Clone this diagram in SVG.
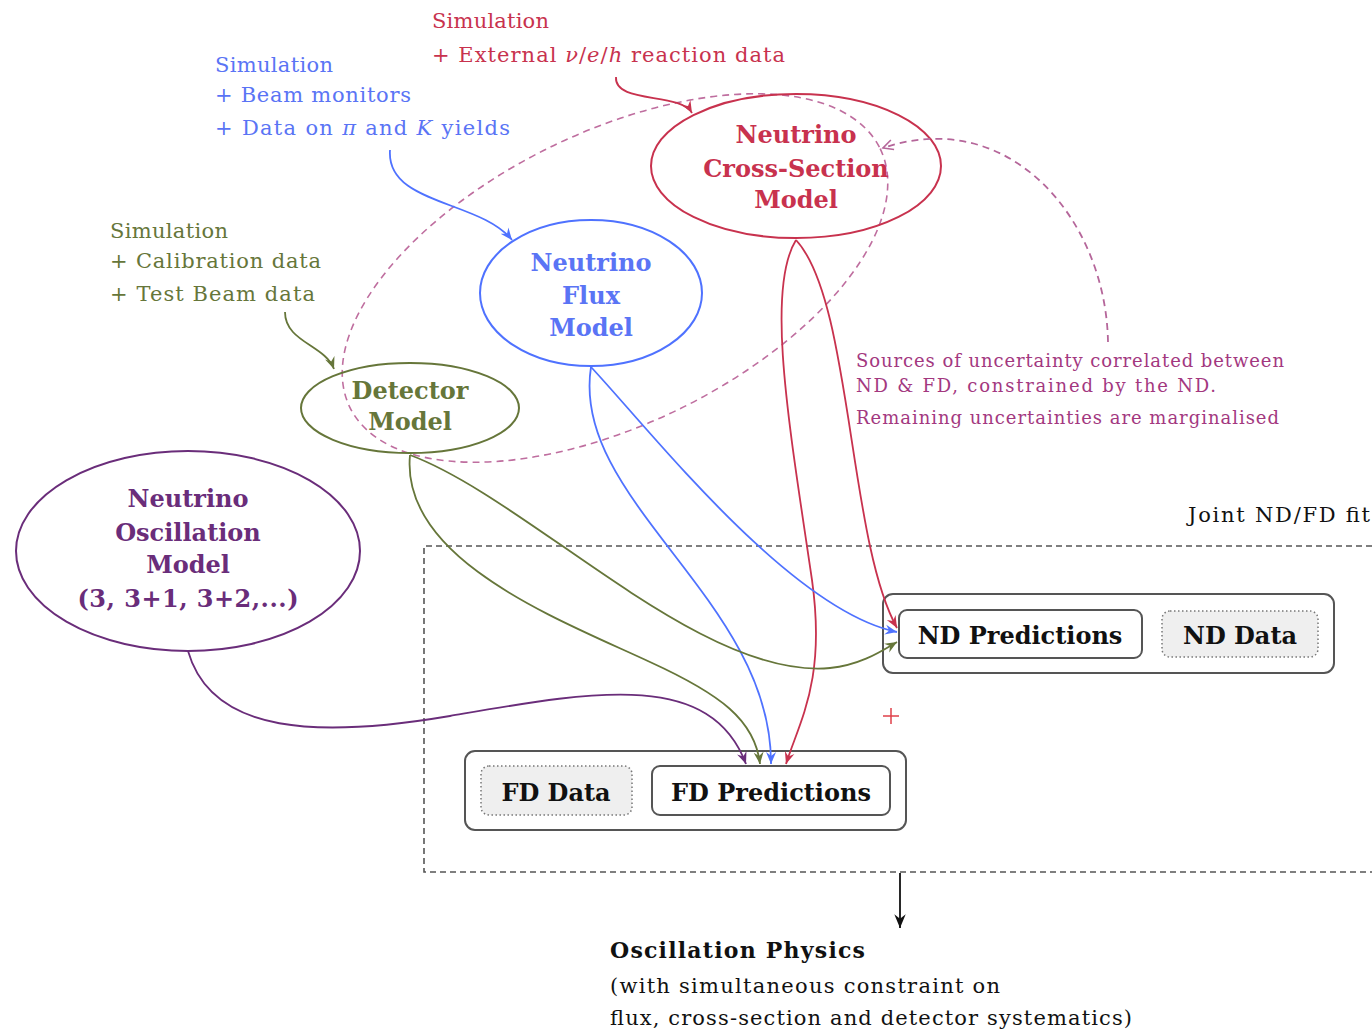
<svg xmlns="http://www.w3.org/2000/svg" width="1372" height="1031" viewBox="0 0 1372 1031">
<style>
  text { font-family: "DejaVu Serif", "Liberation Serif", serif; }
  .lbl { font-weight: bold; font-size: 24px; text-anchor: middle; }
  .reg { font-size: 21px; }
  .red { fill: #c8324e; }
  .blue { fill: #5a74f5; }
  .green { fill: #66763a; }
  .purple { fill: #6a2d7a; }
  .pink { fill: #a3387f; }
  .blk { fill: #111; }
  .conn { fill: none; stroke-width: 1.8; }
  .box { fill: #fff; stroke: #555; stroke-width: 2; }
  .data { fill: #efefef; stroke: #777; stroke-width: 1.5; stroke-dasharray: 1.5 2.5; }
</style>
<defs>
  <marker id="ah-red" markerUnits="userSpaceOnUse" markerWidth="14" markerHeight="12" refX="12" refY="5" orient="auto" viewBox="0 0 14 10"><path d="M0,0 L12,5 L0,10 L4,5 z" fill="#c8324e"/></marker>
  <marker id="ah-blue" markerUnits="userSpaceOnUse" markerWidth="14" markerHeight="12" refX="12" refY="5" orient="auto" viewBox="0 0 14 10"><path d="M0,0 L12,5 L0,10 L4,5 z" fill="#4f72ff"/></marker>
  <marker id="ah-green" markerUnits="userSpaceOnUse" markerWidth="14" markerHeight="12" refX="12" refY="5" orient="auto" viewBox="0 0 14 10"><path d="M0,0 L12,5 L0,10 L4,5 z" fill="#66763a"/></marker>
  <marker id="ah-purple" markerUnits="userSpaceOnUse" markerWidth="14" markerHeight="12" refX="12" refY="5" orient="auto" viewBox="0 0 14 10"><path d="M0,0 L12,5 L0,10 L4,5 z" fill="#6a2d7a"/></marker>
  <marker id="ah-pink" markerUnits="userSpaceOnUse" markerWidth="14" markerHeight="12" refX="11" refY="5" orient="auto" viewBox="0 0 14 10"><path d="M1,0 L11,5 L1,10" fill="none" stroke="#b5669a" stroke-width="1.6"/></marker>
  <marker id="ah-black" markerUnits="userSpaceOnUse" markerWidth="16" markerHeight="14" refX="12" refY="5" orient="auto" viewBox="0 0 14 10"><path d="M0,0 L12,5 L0,10 L4,5 z" fill="#111"/></marker>
</defs>

<!-- joint fit region -->
<g id="joint-fit">
  <path d="M1372,546 L424,546 L424,872 L1372,872" fill="none" stroke="#555" stroke-width="1.6" stroke-dasharray="6 4"/>
  <text class="reg blk" x="1188" y="522" textLength="182" lengthAdjust="spacing">Joint ND/FD fit</text>
</g>

<!-- correlated uncertainty region -->
<g id="correlated-region">
  <ellipse cx="615" cy="278" rx="295" ry="146" transform="rotate(-26 615 278)" fill="none" stroke="#bf6e9f" stroke-width="1.6" stroke-dasharray="7 5"/>
  <text class="pink" font-size="18" x="856" y="367" textLength="428" lengthAdjust="spacing">Sources of uncertainty correlated between</text>
  <text class="pink" font-size="18" x="856" y="392" textLength="360" lengthAdjust="spacing">ND &amp; FD, constrained by the ND.</text>
  <text class="pink" font-size="18" x="856" y="424" textLength="423" lengthAdjust="spacing">Remaining uncertainties are marginalised</text>
</g>

<!-- input labels -->
<g id="xsec-inputs">
  <text class="reg red" x="432" y="28" textLength="117" lengthAdjust="spacing">Simulation</text>
  <text class="reg red" x="432" y="62" textLength="353" lengthAdjust="spacing">+ External <tspan font-style="italic">ν</tspan>/<tspan font-style="italic">e</tspan>/<tspan font-style="italic">h</tspan> reaction data</text>
</g>
<g id="flux-inputs">
  <text class="reg blue" x="215" y="72" textLength="118" lengthAdjust="spacing">Simulation</text>
  <text class="reg blue" x="215" y="102" textLength="196" lengthAdjust="spacing">+ Beam monitors</text>
  <text class="reg blue" x="215" y="135" textLength="295" lengthAdjust="spacing">+ Data on <tspan font-style="italic">π</tspan> and <tspan font-style="italic">K</tspan> yields</text>
</g>
<g id="detector-inputs">
  <text class="reg green" x="110" y="238" textLength="118" lengthAdjust="spacing">Simulation</text>
  <text class="reg green" x="110" y="268" textLength="211" lengthAdjust="spacing">+ Calibration data</text>
  <text class="reg green" x="110" y="301" textLength="205" lengthAdjust="spacing">+ Test Beam data</text>
</g>

<!-- nodes -->
<g id="xsec-model">
  <ellipse cx="796" cy="166" rx="145" ry="72" fill="none" stroke="#c8324e" stroke-width="2"/>
  <text class="lbl red" x="796" y="143">Neutrino</text>
  <text class="lbl red" x="796" y="177">Cross-Section</text>
  <text class="lbl red" x="796" y="208">Model</text>
</g>
<g id="flux-model">
  <ellipse cx="591" cy="293" rx="111" ry="73" fill="none" stroke="#4f72ff" stroke-width="2"/>
  <text class="lbl blue" x="591" y="271">Neutrino</text>
  <text class="lbl blue" x="591" y="304">Flux</text>
  <text class="lbl blue" x="591" y="336">Model</text>
</g>
<g id="detector-model">
  <ellipse cx="410" cy="408" rx="109" ry="45" fill="none" stroke="#66763a" stroke-width="2"/>
  <text class="lbl green" x="410" y="399">Detector</text>
  <text class="lbl green" x="410" y="430">Model</text>
</g>
<g id="osc-model">
  <ellipse cx="188" cy="551" rx="172" ry="100" fill="none" stroke="#6a2d7a" stroke-width="2"/>
  <text class="lbl purple" x="188" y="507">Neutrino</text>
  <text class="lbl purple" x="188" y="541">Oscillation</text>
  <text class="lbl purple" x="188" y="573">Model</text>
  <text class="lbl purple" x="188" y="607" textLength="221" lengthAdjust="spacing">(3, 3+1, 3+2,...)</text>
</g>

<g id="nd">
  <rect class="box" x="883" y="594" width="451" height="79" rx="10"/>
  <rect class="box" x="899" y="610" width="243" height="48" rx="8" stroke="#444"/>
  <text class="lbl blk" x="1020" y="644">ND Predictions</text>
  <rect class="data" x="1162" y="611" width="156" height="46" rx="8"/>
  <text class="lbl blk" x="1240" y="644">ND Data</text>
</g>
<g id="fd">
  <rect class="box" x="465" y="751" width="441" height="79" rx="10"/>
  <rect class="data" x="481" y="766" width="151" height="49" rx="8"/>
  <text class="lbl blk" x="556" y="801">FD Data</text>
  <rect class="box" x="652" y="766" width="238" height="49" rx="8" stroke="#444"/>
  <text class="lbl blk" x="771" y="801">FD Predictions</text>
</g>

<g id="red-plus">
  <path d="M883,716 L899,716 M891,708 L891,724" stroke="#e0404a" stroke-width="1.5"/>
</g>

<g id="result">
  <text font-weight="bold" font-size="22" class="blk" x="610" y="958" textLength="255" lengthAdjust="spacing">Oscillation Physics</text>
  <text class="reg blk" x="610" y="993" textLength="390" lengthAdjust="spacing">(with simultaneous constraint on</text>
  <text class="reg blk" x="610" y="1025" textLength="522" lengthAdjust="spacing">flux, cross-section and detector systematics)</text>
</g>

<!-- connectors -->
<g id="connectors">
  <path class="conn" stroke="#c8324e" d="M616,77 C614,104 680,92 692,113" marker-end="url(#ah-red)"/>
  <path class="conn" stroke="#4f72ff" d="M390,150 C386,205 480,200 512,240" marker-end="url(#ah-blue)"/>
  <path class="conn" stroke="#66763a" d="M285,312 C285,342 325,345 334,369" marker-end="url(#ah-green)"/>
  <path class="conn" stroke="#b5669a" stroke-dasharray="7 5" d="M1108,342 C1106,220 1010,105 883,148" marker-end="url(#ah-pink)"/>

  <path class="conn" stroke="#c8324e" d="M796,240 C852,300 848,540 897,628" marker-end="url(#ah-red)"/>
  <path class="conn" stroke="#c8324e" d="M796,240 C765,290 790,430 812,580 C826,680 800,720 786,764" marker-end="url(#ah-red)"/>
  <path class="conn" stroke="#4f72ff" d="M591,367 C650,430 790,610 897,632" marker-end="url(#ah-blue)"/>
  <path class="conn" stroke="#4f72ff" d="M591,367 C570,500 772,600 771,764" marker-end="url(#ah-blue)"/>
  <path class="conn" stroke="#66763a" d="M410,455 C530,500 700,680 830,668 C860,665 880,652 897,642" marker-end="url(#ah-green)"/>
  <path class="conn" stroke="#66763a" d="M410,455 C400,560 560,620 650,662 C720,694 755,720 760,764" marker-end="url(#ah-green)"/>
  <path class="conn" stroke="#6a2d7a" d="M188,651 C212,735 320,738 450,716 C590,692 710,668 746,764" marker-end="url(#ah-purple)"/>
  <path class="conn" stroke="#111" stroke-width="2.2" d="M900,873 L900,928" marker-end="url(#ah-black)"/>
</g>
</svg>
